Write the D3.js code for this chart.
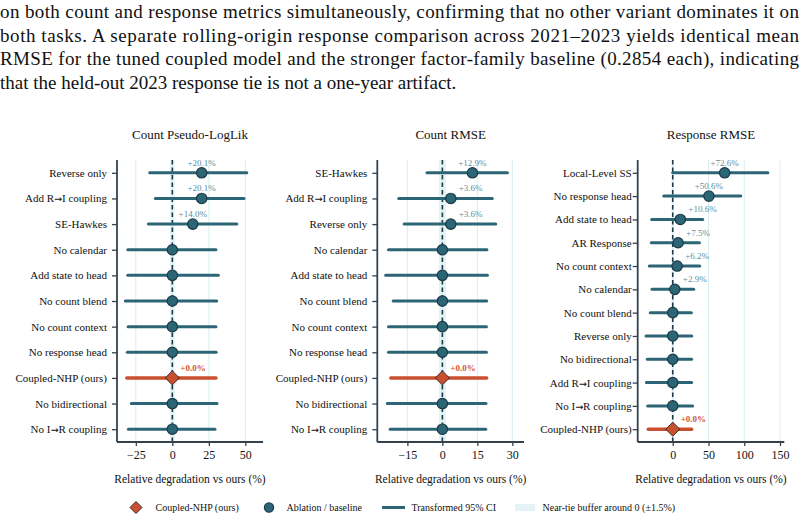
<!DOCTYPE html>
<html>
<head>
<meta charset="utf-8">
<script src="https://d3js.org/d3.v7.min.js"></script>
<style>
    body { margin: 0; background: #fff; }
    svg { display: block; font-family: 'Liberation Serif', 'Times New Roman', serif; }
</style>
</head>
<body>
<svg width="804" height="521"></svg>
<script>
    // paragraph lines (already wrapped as in the source)
    var textLines = [
        "on both count and response metrics simultaneously, confirming that no other variant dominates it on",
        "both tasks. A separate rolling-origin response comparison across 2021\u20132023 yields identical mean",
        "RMSE for the tuned coupled model and the stronger factor-family baseline (0.2854 each), indicating",
        "that the held-out 2023 response tie is not a one-year artifact."
    ];

    // --- Count Pseudo-LogLik
    var p1Labels = ["Reverse only", "Add R\u2192I coupling", "SE-Hawkes", "No calendar", "Add state to head",
        "No count blend", "No count context", "No response head", "Coupled-NHP (ours)", "No bidirectional", "No I\u2192R coupling"];
    var p1Values = [20.1, 20.1, 14.0, 0, 0, 0, 0, 0, 0, 0, 0];
    var p1Lo = [-15.5, -11.6, -16.4, -30.5, -30.5, -32.2, -30.3, -30.8, -31.2, -28.1, -30.1];
    var p1Hi = [51.0, 49.1, 44.1, 29.9, 31.5, 30.4, 29.9, 30.0, 29.9, 30.6, 29.2];
    var p1Ticks = [-25, 0, 25, 50];

    // --- Count RMSE
    var p2Labels = ["SE-Hawkes", "Add R\u2192I coupling", "Reverse only", "No calendar", "Add state to head",
        "No count blend", "No count context", "No response head", "Coupled-NHP (ours)", "No bidirectional", "No I\u2192R coupling"];
    var p2Values = [12.9, 3.6, 3.6, 0, 0, 0, 0, 0, 0, 0, 0];
    var p2Lo = [-6.6, -18.7, -16.4, -23.1, -24.3, -21.1, -23.1, -23.1, -22.1, -23.6, -22.4];
    var p2Hi = [27.9, 21.4, 22.9, 19.1, 19.3, 19.0, 18.9, 18.9, 19.0, 18.7, 18.6];
    var p2Ticks = [-15, 0, 15, 30];

    // --- Response RMSE
    var p3Labels = ["Local-Level SS", "No response head", "Add state to head", "AR Response", "No count context",
        "No calendar", "No count blend", "Reverse only", "No bidirectional", "Add R\u2192I coupling", "No I\u2192R coupling", "Coupled-NHP (ours)"];
    var p3Values = [72.6, 50.6, 10.6, 7.5, 6.2, 2.9, 0, 0, 0, 0, 0, 0];
    var p3Lo = [0, -12.6, -29.4, -30.0, -32.8, -29.0, -31.4, -37.4, -35.6, -36.9, -35.1, -34.2];
    var p3Hi = [133, 95.2, 42.0, 37.3, 37.8, 29.4, 26.1, 26.6, 26.4, 26.4, 27.8, 26.4];
    var p3Ticks = [0, 50, 100, 150];

    var ours = "Coupled-NHP (ours)";
    var tieBuffer = 1.5;

    var teal = "#2c6676", tealDark = "#1b3a46", tealText = "#5e8e9a";
    var red = "#c8502f", redText = "#d0553a";
    var gridCol = "#d9edf2", bandCol = "#e4f3f6", axisCol = "#35424d";

    var svg = d3.select("svg");

    // paragraph
    svg.selectAll(".para").data(textLines).enter().append("text")
        .attr("class", "para")
        .attr("x", 0)
        .attr("y", function (d, i) { return 18 + i * 23.5; })
        .attr("font-size", "19px")
        .attr("fill", "#111")
        .attr("textLength", function (d, i) { return i < textLines.length - 1 ? 799 : null; })
        .attr("lengthAdjust", "spacing")
        .text(function (d) { return d; });

    var panels = [
        {title: "Count Pseudo-LogLik", labels: p1Labels, values: p1Values, lo: p1Lo, hi: p1Hi, ticks: p1Ticks,
            x0: 117, x1: 263, domain: [-37.9, 62.1], pad: 5},
        {title: "Count RMSE", labels: p2Labels, values: p2Values, lo: p2Lo, hi: p2Hi, ticks: p2Ticks,
            x0: 377.3, x1: 524, domain: [-27.9, 35], pad: 5},
        {title: "Response RMSE", labels: p3Labels, values: p3Values, lo: p3Lo, hi: p3Hi, ticks: p3Ticks,
            x0: 637.7, x1: 784.3, domain: [-49, 156], pad: 1}
    ];

    var plotTop = 160, plotBottom = 442;

    function diamondPath(cx, cy, r) {
        return "M" + cx + "," + (cy - r) + "L" + (cx + r) + "," + cy + "L" + cx + "," + (cy + r) + "L" + (cx - r) + "," + cy + "Z";
    }

    // long arrow in tick labels (the serif font's own arrow is tiny)
    function arrowText(sel) {
        sel.each(function (d) {
            var t = d3.select(this);
            var parts = String(d).split("\u2192");
            if (parts.length < 2) return;
            t.text(null);
            t.append("tspan").text(parts[0]);
            t.append("tspan").attr("font-family", "'DejaVu Sans', sans-serif").attr("font-size", "9.5px")
                .text("\u2192");
            t.append("tspan").text(parts[1]);
        });
    }

    panels.forEach(function (p) {
        var n = p.labels.length;
        var x = d3.scaleLinear().domain(p.domain).range([p.x0, p.x1]);
        var y = d3.scalePoint().domain(p.labels).range([plotTop, plotBottom]).padding(0.05 * (n - 1));
        var g = svg.append("g");

        // near-tie band
        g.append("rect")
            .attr("x", x(-tieBuffer))
            .attr("y", plotTop)
            .attr("width", x(tieBuffer) - x(-tieBuffer))
            .attr("height", plotBottom - plotTop)
            .attr("fill", bandCol);

        // grid
        g.selectAll(".grid").data(p.ticks).enter().append("line")
            .attr("x1", function (d) { return x(d); })
            .attr("x2", function (d) { return x(d); })
            .attr("y1", plotTop).attr("y2", plotBottom)
            .attr("stroke", gridCol).attr("stroke-width", 1);

        // zero line
        g.append("line")
            .attr("x1", x(0)).attr("x2", x(0))
            .attr("y1", plotTop).attr("y2", plotBottom)
            .attr("stroke", tealDark).attr("stroke-width", 1.6)
            .attr("stroke-dasharray", "4.5,3");

        var rows = p.labels.map(function (l, i) {
            return {label: l, v: p.values[i], lo: p.lo[i], hi: p.hi[i], ours: l === ours};
        });

        // CI lines
        g.selectAll(".ci").data(rows).enter().append("line")
            .attr("x1", function (d) { return x(d.lo); })
            .attr("x2", function (d) { return x(d.hi); })
            .attr("y1", function (d) { return y(d.label); })
            .attr("y2", function (d) { return y(d.label); })
            .attr("stroke", function (d) { return d.ours ? red : teal; })
            .attr("stroke-width", function (d) { return d.ours ? 3.5 : 3; })
            .attr("stroke-linecap", "round");

        // markers
        rows.forEach(function (d) {
            if (d.ours) {
                g.append("path")
                    .attr("d", diamondPath(x(d.v), y(d.label), 7))
                    .attr("fill", red).attr("stroke", "#3a2a26").attr("stroke-width", 1);
            } else {
                g.append("circle")
                    .attr("cx", x(d.v)).attr("cy", y(d.label)).attr("r", 5.2)
                    .attr("fill", teal).attr("stroke", tealDark).attr("stroke-width", 1.2);
            }
        });

        // value labels
        rows.forEach(function (d) {
            if (!d.ours && Math.abs(d.v) <= tieBuffer) return;
            var px = x(d.v) - x(0);
            var centered = !d.ours && px > 12;
            g.append("text")
                .attr("x", centered ? x(d.v) : x(d.v) + 8)
                .attr("y", y(d.label) - 7)
                .attr("text-anchor", centered ? "middle" : "start")
                .attr("font-size", "9px")
                .attr("font-weight", d.ours ? "bold" : "normal")
                .attr("fill", d.ours ? redText : tealText)
                .text((d.v >= 0 ? "+" : "") + d.v.toFixed(1) + "%");
        });

        // axes
        var yAxis = d3.axisLeft(y).tickSize(5).tickPadding(p.pad);
        var yG = g.append("g").attr("transform", "translate(" + p.x0 + ",0)").call(yAxis);
        yG.attr("font-family", null);
        yG.select(".domain").attr("d", "M0," + plotTop + "V" + plotBottom).attr("stroke", axisCol).attr("stroke-width", 1.8);
        yG.selectAll(".tick line").attr("stroke", axisCol).attr("stroke-width", 1.3);
        yG.selectAll(".tick text").attr("font-size", "11px").attr("fill", "#111").call(arrowText);

        var xAxis = d3.axisBottom(x).tickValues(p.ticks).tickSize(4).tickPadding(4)
            .tickFormat(function (d) { return d < 0 ? "\u2212" + Math.abs(d) : d; });
        var xG = g.append("g").attr("transform", "translate(0," + plotBottom + ")").call(xAxis);
        xG.attr("font-family", null);
        xG.select(".domain").attr("d", "M" + p.x0 + ",0H" + p.x1).attr("stroke", axisCol).attr("stroke-width", 1.8);
        xG.selectAll(".tick line").attr("stroke", axisCol).attr("stroke-width", 1.3);
        xG.selectAll(".tick text").attr("font-size", "12px").attr("fill", "#111");

        // title + x label
        g.append("text")
            .attr("x", (p.x0 + p.x1) / 2).attr("y", 139)
            .attr("text-anchor", "middle").attr("font-size", "13px").attr("fill", "#111")
            .text(p.title);
        g.append("text")
            .attr("x", (p.x0 + p.x1) / 2).attr("y", 483)
            .attr("text-anchor", "middle").attr("font-size", "11.5px").attr("fill", "#111")
            .text("Relative degradation vs ours (%)");
    });

    // legend
    var legY = 507.5;
    var leg = svg.append("g").attr("font-size", "10px").attr("fill", "#111");
    leg.append("path").attr("d", diamondPath(136, legY, 6))
        .attr("fill", red).attr("stroke", "#3a2a26").attr("stroke-width", 1);
    leg.append("text").attr("x", 155.5).attr("y", legY + 3.5).text("Coupled-NHP (ours)");
    leg.append("circle").attr("cx", 269).attr("cy", legY).attr("r", 4.6)
        .attr("fill", teal).attr("stroke", tealDark).attr("stroke-width", 1.2);
    leg.append("text").attr("x", 286.5).attr("y", legY + 3.5).text("Ablation / baseline");
    leg.append("line").attr("x1", 382).attr("x2", 405).attr("y1", legY).attr("y2", legY)
        .attr("stroke", teal).attr("stroke-width", 3);
    leg.append("text").attr("x", 411.5).attr("y", legY + 3.5).text("Transformed 95% CI");
    leg.append("rect").attr("x", 515).attr("y", legY - 3.5).attr("width", 20).attr("height", 7)
        .attr("fill", bandCol);
    leg.append("text").attr("x", 542.5).attr("y", legY + 3.5).text("Near-tie buffer around 0 (\u00b11.5%)");
</script>
</body>
</html>
